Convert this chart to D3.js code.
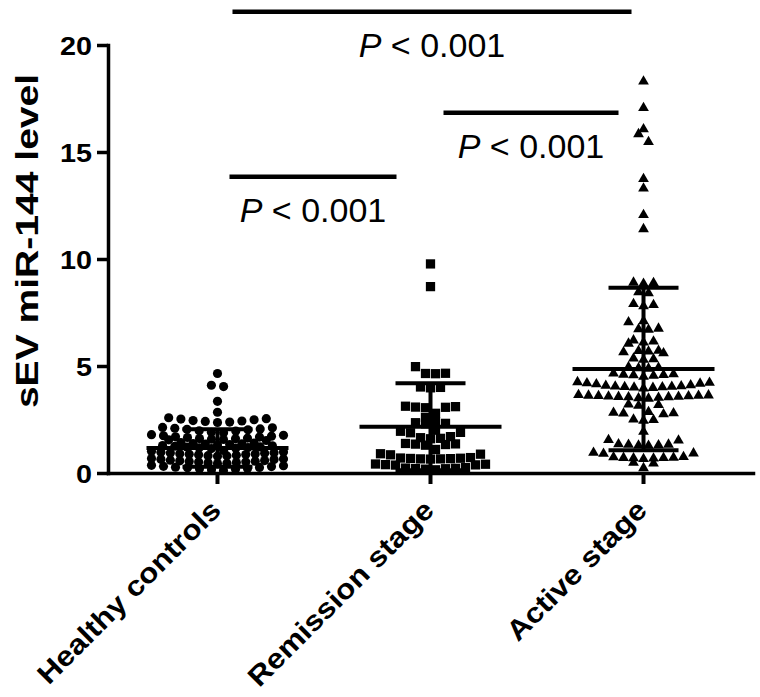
<!DOCTYPE html>
<html><head><meta charset="utf-8">
<script src="https://cdn.jsdelivr.net/npm/d3@7"></script>
<style>body{margin:0;background:#fff}</style>
</head><body><svg id="c" width="760" height="697"></svg>
<script>
const categories = ["Healthy controls", "Remission stage", "Active stage"];
const healthy = [
 4.65, 4.10, 4.04, 3.35, 2.84,
 2.58, 2.54, 2.49, 2.45, 2.41, 2.38, 2.36, 2.43, 2.52,
 2.13, 2.09, 2.06, 2.02, 1.96, 1.90, 1.88, 2.04, 2.11, 1.97,
 1.79, 1.76, 1.72, 1.69, 1.66, 1.63, 1.60, 1.57, 1.55, 1.52, 1.61, 1.68, 1.74, 1.58,
 1.42, 1.38, 1.35, 1.31, 1.28, 1.25, 1.22, 1.19, 1.16, 1.14, 1.27, 1.33, 1.21, 1.36, 1.18, 1.40,
 1.02, 0.98, 0.95, 0.92, 0.89, 0.86, 0.83, 0.80, 0.78, 0.85, 0.93, 0.97, 0.81, 0.88, 1.05, 0.90,
 0.66, 0.63, 0.60, 0.57, 0.54, 0.51, 0.48, 0.46, 0.58, 0.52, 0.64, 0.49, 0.55, 0.68, 0.44,
 0.34, 0.30, 0.27, 0.24, 0.21, 0.18, 0.15, 0.12, 0.26, 0.31, 0.20, 0.36
];
const remission = [
 9.77, 8.71, 4.97, 4.66, 4.65, 4.64, 4.02, 4.00, 3.98,
 3.07, 3.10, 3.05, 3.08, 3.12, 2.79, 2.59, 2.40, 2.35, 2.30, 2.32,
 2.00, 1.90, 1.95, 1.88, 1.62, 1.60, 1.65, 1.70, 1.35, 1.33, 1.30, 1.36, 1.38,
 1.10, 0.85, 0.90, 0.88, 0.68, 0.69, 0.66, 0.67, 0.65, 0.66, 0.70, 0.72,
 0.42, 0.38, 0.39, 0.37, 0.41, 0.22, 0.20, 0.25, 0.18, 0.23, 0.21, 0.15
];
const active = [
 18.30, 17.06, 15.84, 16.07, 15.47, 13.74, 13.30, 12.06, 11.40,
 8.90, 8.85, 8.88, 8.45, 8.40, 7.90, 7.85, 7.80, 7.10, 7.05, 6.75, 6.70, 6.72,
 6.20, 6.15, 6.10, 6.05, 5.70, 5.65, 5.68, 5.60, 5.72, 5.35, 5.30, 5.32,
 4.90, 4.92, 4.88, 4.95, 4.60, 4.55, 4.58, 4.62, 4.57, 4.50, 4.65,
 4.20, 4.22, 4.18, 4.25, 4.15, 4.05, 4.00, 4.02, 4.08, 3.98, 4.03, 4.06, 4.01, 3.95, 4.10,
 3.60, 3.55, 3.58, 3.62, 3.50, 3.57, 3.65, 3.52, 3.59, 3.54, 3.61, 3.56, 3.63, 3.48,
 3.20, 3.15, 3.18, 2.82, 2.78, 2.80, 2.85, 2.75, 2.50, 2.45, 2.48, 1.93, 1.55, 1.52,
 1.32, 1.30, 1.35, 1.28, 1.33, 1.29, 0.95, 0.92, 0.90,
 0.70, 0.72, 0.68, 0.74, 0.66, 0.71, 0.69, 0.75, 0.48, 0.45, 0.23
];
const groupValues = [healthy, remission, active];
const means = [1.17, 2.16, 4.86];
const sds = [0.88, 2.03, 3.80];
const yTicks = [0, 5, 10, 15, 20];
const yTitle = "sEV miR-144 level";
const compFrom = [0, 1, 0];
const compTo = [2, 2, 1];
const compLevel = [21.55, 16.83, 13.84];
const compLabel = ["< 0.001", "< 0.001", "< 0.001"];

const svg = d3.select("#c");
const font = "'Liberation Sans', Arial, Helvetica, sans-serif";
const y = d3.scaleLinear().domain([0, 20]).range([473, 45]);
const x = d3.scaleBand().domain(categories).range([108, 753]).paddingInner(0).paddingOuter(0.014);
const cx = i => x(categories[i]) + x.bandwidth() / 2;

const symbols = [d3.symbolCircle, d3.symbolSquare, d3.symbolTriangle];
const symSize = [66, 86, 50];
const spacing = [12.2, 10, 10];
const maxHalf = [66, 64, 66];
const rowH = [5.5, 8, 8];

// points: GraphPad-like row layout
groupValues.forEach((vals, gi) => {
  const sorted = vals.slice().sort((a, b) => a - b);
  const rows = [];
  let cur = null;
  sorted.forEach(v => {
    if (!cur || (y(cur[0]) - y(v)) >= rowH[gi]) { cur = [v]; rows.push(cur); }
    else cur.push(v);
  });
  const pts = [];
  rows.forEach(row => {
    const n = row.length;
    const s = n > 1 ? Math.min(spacing[gi], 2 * maxHalf[gi] / (n - 1)) : 0;
    const slots = d3.range(n).map(k => (k - (n - 1) / 2) * s);
    slots.sort((a, b) => Math.abs(a) - Math.abs(b) || b - a);
    row.forEach((v, j) => pts.push({ x: cx(gi) + slots[j], y: y(v) }));
  });
  svg.append("g").selectAll("path").data(pts).join("path")
    .attr("d", d3.symbol(symbols[gi], symSize[gi]))
    .attr("transform", d => `translate(${d.x},${d.y})`)
    .attr("fill", "#000");
});

// mean & SD
const g = svg.append("g").attr("stroke", "#000").attr("stroke-width", 4);
means.forEach((m, i) => {
  const c = cx(i);
  g.append("line").attr("x1", c - 71).attr("x2", c + 71).attr("y1", y(m)).attr("y2", y(m));
  g.append("line").attr("x1", c).attr("x2", c).attr("y1", y(Math.max(0, m - sds[i]))).attr("y2", y(m + sds[i]));
  g.append("line").attr("x1", c - 35).attr("x2", c + 35).attr("y1", y(m + sds[i])).attr("y2", y(m + sds[i]));
  if (m - sds[i] > 0)
    g.append("line").attr("x1", c - 35).attr("x2", c + 35).attr("y1", y(m - sds[i])).attr("y2", y(m - sds[i]));
});

// axes
const ya = svg.append("g").attr("transform", "translate(108,0)")
  .call(d3.axisLeft(y).tickValues(yTicks).tickSize(11).tickSizeOuter(0));
ya.select(".domain").attr("stroke-width", 3.5).attr("stroke-linecap", "square");
ya.selectAll(".tick line").attr("stroke-width", 3.5);
ya.selectAll(".tick text").attr("font-family", font).attr("font-weight", "bold").attr("font-size", 25)
  .attr("fill", "#000").attr("x", -16 / 1.15).attr("dy", "0.36em").attr("transform", "scale(1.15,1)");

const xa = svg.append("g").attr("transform", "translate(0,473)")
  .call(d3.axisBottom(x).tickSize(11).tickSizeOuter(0));
xa.select(".domain").attr("stroke-width", 3.5).attr("stroke-linecap", "square");
xa.selectAll(".tick line").attr("stroke-width", 4);
xa.selectAll(".tick text").remove();
categories.forEach((c, i) => {
  svg.append("text")
    .attr("transform", `translate(${cx(i) + 5},512) rotate(-45) scale(1.12,1)`)
    .attr("text-anchor", "end").attr("font-family", font).attr("font-weight", "bold")
    .attr("font-size", 28).attr("fill", "#000").text(c);
});

// y title
svg.append("text")
  .attr("transform", "translate(38,241) rotate(-90) scale(1.24,1)")
  .attr("text-anchor", "middle").attr("font-family", font).attr("font-weight", "bold")
  .attr("font-size", 31.5).attr("fill", "#000").text(yTitle);

// significance
const insetL = [15, 13, 12], insetR = [12, 25, 34];
compFrom.forEach((f, i) => {
  const x1 = cx(f) + insetL[i], x2 = cx(compTo[i]) - insetR[i], ly = y(compLevel[i]);
  svg.append("line").attr("x1", x1).attr("x2", x2).attr("y1", ly).attr("y2", ly)
    .attr("stroke", "#000").attr("stroke-width", 4.5);
  const t = svg.append("text").attr("x", (x1 + x2) / 2).attr("y", ly + 45)
    .attr("text-anchor", "middle").attr("font-family", font).attr("font-size", 34).attr("fill", "#000");
  t.append("tspan").attr("font-style", "italic").text("P");
  t.append("tspan").text(" " + compLabel[i]);
});
</script></body></html>
